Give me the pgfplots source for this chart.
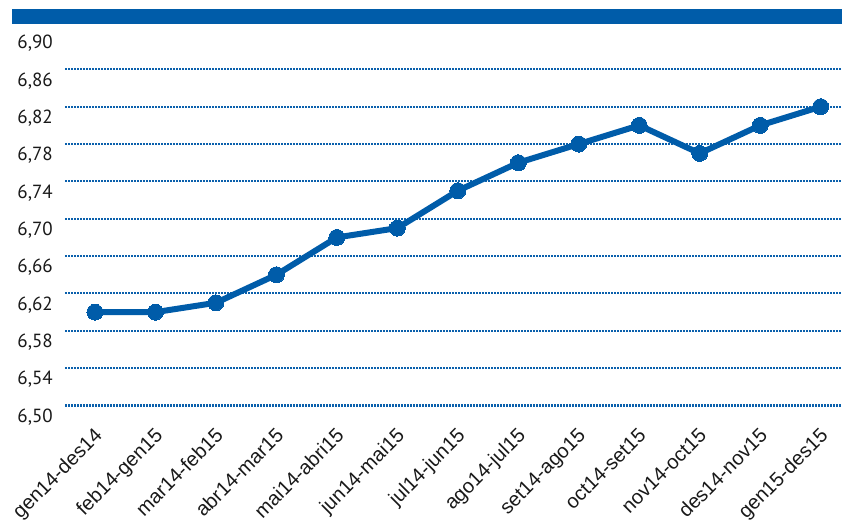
\documentclass[border=0pt]{standalone}
\usepackage{pgfplots}
\pgfplotsset{compat=1.18}
\usepackage{fontspec}
\setmainfont{Liberation Sans}
\newfontfamily\yfont{PT Sans}
\definecolor{cblue}{RGB}{0,92,169}
\definecolor{gblue}{RGB}{10,96,172}
\definecolor{txt}{RGB}{25,25,25}
\begin{document}
\begin{tikzpicture}
\useasboundingbox (0,0) rectangle (842bp,524bp);
\fill[cblue] (11.7bp,499.7bp) rectangle (842bp,514.7bp);
\begin{axis}[
  at={(65bp,118.5bp)}, anchor=south west,
  scale only axis, width=777bp, height=373.5bp,
  xmin=-0.496, xmax=12.353,
  ymin=6.50, ymax=6.90,
  axis line style={draw=none},
  major tick length=0pt,
  clip=false,
  xtick={0,...,12},
  xticklabels={gen14-des14,feb14-gen15,mar14-feb15,abr14-mar15,mai14-abri15,jun14-mai15,jul14-jun15,ago14-jul15,set14-ago15,oct14-set15,nov14-oct15,des14-nov15,gen15-des15},
  xticklabel style={anchor=north east, inner sep=0pt, xshift=-2bp, yshift=-21bp, rotate=45, font=\fontsize{20bp}{22bp}\selectfont, text=txt},
  ytick={6.50,6.54,6.58,6.62,6.66,6.70,6.74,6.78,6.82,6.86},
  yticklabels={{6,50},{6,54},{6,58},{6,62},{6,66},{6,70},{6,74},{6,78},{6,82},{6,86}},
  extra y ticks={6.90},
  extra y tick labels={6{,}90},
  extra y tick style={grid=none},
  yticklabel style={anchor=east, inner sep=0pt, xshift=-12bp, yshift=-11.5bp, font=\yfont\fontsize{19bp}{20bp}\selectfont, text=txt},
  ymajorgrids,
  major grid style={gblue, line width=2bp, dash pattern=on 1.8bp off 1.2bp},
]
\addplot[cblue, line width=6bp, mark=*, mark size=8bp, mark options={solid, fill=cblue, draw=cblue, line width=0pt}]
coordinates {(0,6.60) (1,6.60) (2,6.61) (3,6.64) (4,6.68) (5,6.69) (6,6.73) (7,6.76) (8,6.78) (9,6.80) (10,6.77) (11,6.80) (12,6.82)};
\end{axis}
\end{tikzpicture}
\end{document}
